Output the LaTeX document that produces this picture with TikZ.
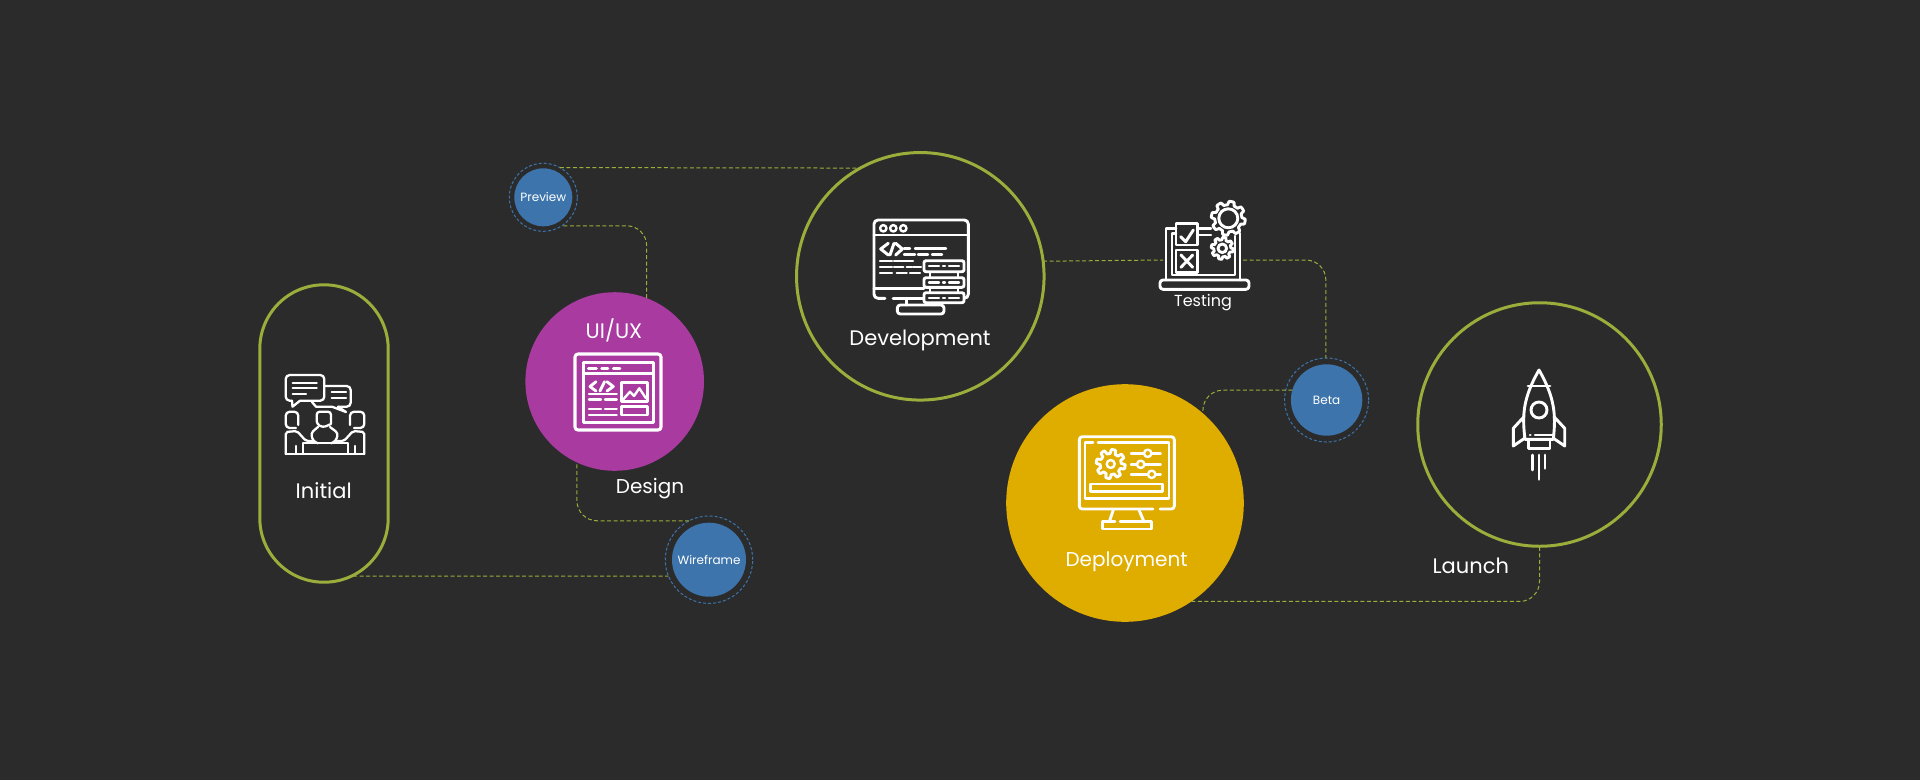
\documentclass[tikz,border=0pt]{standalone}
\usepackage{fontspec}
\setmainfont{Poppins}
\usetikzlibrary{calc}
\definecolor{bgdark}{HTML}{2B2B2B}
\definecolor{olive}{HTML}{9BAD3A}
\definecolor{steel}{HTML}{3C74AB}
\definecolor{plum}{HTML}{A83AA0}
\definecolor{amber}{HTML}{DFAD00}
\tikzset{
	stage/.style={circle, draw=olive, line width=3pt, inner sep=0, outer sep=0, minimum size=#1},
	blob/.style={circle, fill=#1, inner sep=0, outer sep=0},
	halo/.style={circle, draw=steel, line width=1pt, dash pattern=on 3pt off 2pt, inner sep=0, outer sep=0, minimum size=#1},
	link/.style={draw=olive, line width=1pt, dash pattern=on 4pt off 2.5pt, rounded corners=20pt},
	iconline/.style={draw=white, line width=#1, line join=round, line cap=round},
	iconline/.default=2.9pt,
	bigtxt/.style={text=white, inner sep=0, font=\fontsize{21}{25}\selectfont},
	lowtxt/.style={text=white, inner sep=0, font=\fontsize{20}{24}\selectfont},
	midtxt/.style={text=white, inner sep=0, font=\fontsize{16}{19}\selectfont},
	smalltxt/.style={text=white, inner sep=0, font=\fontsize{12}{15}\selectfont},
}
\def\gearshape(#1,#2)(#3:#4:#5){\draw[iconline] plot[domain=0:360,samples=145,variable=\t] ({#1+(#3+(#4-#3)*(0.5+0.5*min(1,max(-1,2.5*sin(#5*\t)))))*cos(\t)},{#2+(#3+(#4-#3)*(0.5+0.5*min(1,max(-1,2.5*sin(#5*\t)))))*sin(\t)}) -- cycle;}

\begin{document}
\begin{tikzpicture}[x=1pt, y=-1pt]
		%%%%% START %%%%%
		\fill[bgdark] (0,0) rectangle (1920,780);
		\useasboundingbox (0,0) rectangle (1920,780);
		
		% stages
		\draw[draw=olive, line width=3pt, rounded corners=64pt] (259.8,284.8) rectangle (388.2,582.2);
		\coordinate (initialfoot) at (353,576);
		\node[blob=plum, minimum size=178.6pt] (design) at (614.7,381.5) {};
		\node[stage=247.5pt] (dev) at (920.3,276.3) {};
		\node[blob=amber, minimum size=237.6pt] (deploy) at (1125,503) {};
		\node[stage=243.5pt] (launch) at (1539.5,424.5) {};
		
		% small steps
		\node[blob=steel, minimum size=58pt] (preview) at (543.3,197.3) {};
		\node[halo=68pt] (previewring) at (543.3,197.3) {};
		\node[blob=steel, minimum size=74pt] (wire) at (709,559.7) {};
		\node[halo=87.4pt] (wirering) at (709,559.7) {};
		\node[blob=steel, minimum size=71.4pt] (beta) at (1326.6,400) {};
		\node[halo=84pt] (betaring) at (1326.6,400) {};
		\node[minimum width=80pt, minimum height=60pt, inner sep=0, outer sep=0] (testicon) at (1203,260) {};
		
		% connectors
		\draw[link] (initialfoot) -- (wirering.202);
		\draw[link] (wirering.117.7) -| (design.245);
		\draw[link] (design.69.3) |- (previewring.-57);
		\draw[link] (previewring.61) -- (dev.119);
		\draw[link] (dev.7.6) -- (testicon.west);
		\draw[link] (testicon.east) -| (betaring.91.5);
		\draw[link] (beta.164) -| (deploy.49);
		\draw[link] (deploy.-56.4) -| (launch.south);
		
		% labels
		\node[bigtxt] (initiallbl) at (323.7,490.5) {Initial};
		\node[bigtxt] (uilbl) at (614,330) {UI/UX};
		\node[lowtxt] (designlbl) at (650,488.5) {Design};
		\node[bigtxt] (devlbl) at (920,340) {Development};
		\node[midtxt] (testlbl) at (1203,303) {Testing};
		\node[lowtxt] (deploylbl) at (1126.6,561.5) {Deployment};
		\node[bigtxt] (launchlbl) at (1470.8,565.5) {Launch};
		\node[smalltxt] (previewlbl) at (preview) {Preview};
		\node[smalltxt] (wirelbl) at (wire) {Wireframe};
		\node[smalltxt] (betalbl) at (beta) {Beta};
		
		% icon: people talking
		\draw[iconline=2.3pt, rounded corners=4pt] (292,400.7) -- (285.7,400.7) -- (285.7,375) -- (324.3,375) -- (324.3,400.7) -- (300,400.7);
		\draw[iconline=2.3pt] (292,400.7) -- (292.5,406.7) -- (300,400.7);
		\foreach \ya/\xb in {382.7/316.7, 388.3/316.7, 394.3/306}
			\draw[iconline=2.3pt] (292.7,\ya) -- (\xb,\ya);
		\draw[iconline=2.3pt, rounded corners=4pt] (325,386) -- (350.7,386) -- (350.7,406.7) -- (338,406.7);
		\draw[iconline=2.3pt] (338,406.7) -- (346,412) -- (332,406.7) -- (316,406.7) -- (312,402);
		\foreach \ya in {391.7, 398.3}
			\draw[iconline=2.3pt] (331.7,\ya) -- (346,\ya);
		\draw[iconline=2.3pt, rounded corners=4pt] (298.3,425) -- (298.3,411.7) -- (285.7,411.7) -- (285.7,428) -- (296,428);
		\draw[iconline=2.3pt, rounded corners=3pt] (331,424) -- (331,411.7) -- (316.7,411.7) -- (316.7,424) -- (323,427.5) -- (331,424);
		\draw[iconline=2.3pt, rounded corners=4pt] (350,425) -- (350,411.7) -- (364.3,411.7) -- (364.3,428) -- (354,428);
		\draw[iconline=2.3pt] (285.7,454) -- (364.3,454);
		\draw[iconline=2.3pt] (303.3,454) -- (303.3,443.3) -- (348.3,443.3) -- (348.3,454);
		\draw[iconline=2.3pt, rounded corners=2pt] (285.7,454) -- (285.7,432) -- (297,431) -- (306,441) -- (314,441);
		\draw[iconline=2.3pt, rounded corners=2pt] (364.3,454) -- (364.3,432) -- (353,431) -- (344,441) -- (336,441);
		\draw[iconline=2.3pt, rounded corners=3pt] (318,427) -- (311,433) -- (313,441) -- (318,443.3);
		\draw[iconline=2.3pt, rounded corners=3pt] (330,427) -- (338,433) -- (336,441) -- (331,443.3);
		\draw[iconline=2.3pt] (296,454) -- (296,446);
		\draw[iconline=2.3pt] (355,454) -- (355,446);
		
		% icon: web layout
		\draw[iconline=3.1pt, rounded corners=3pt] (575,354) rectangle (661,430);
		\draw[iconline=2.9pt] (583.3,362.7) rectangle (653.3,422.7);
		\draw[iconline=2.9pt] (583.3,373.3) -- (653.3,373.3);
		\foreach \xa/\xb in {588.3/596.3, 601.7/608, 613.3/620}
			\draw[iconline=2.9pt] (\xa,368.3) -- (\xb,368.3);
		\draw[iconline=2.9pt] (596,381.7) -- (590,386.5) -- (596,391);
		\draw[iconline=2.9pt] (600,391) -- (604.5,381.7);
		\draw[iconline=2.9pt] (607,381.7) -- (613.3,386.5) -- (607,391);
		\draw[iconline=2.9pt] (621.7,382.3) rectangle (647.3,401.7);
		\draw[iconline=2.4pt] (623.3,399.3) -- (630,391.7) -- (634,396) -- (639.3,388.3) -- (646,398.3);
		\draw[iconline=2.9pt] (621.7,406.7) rectangle (647.3,415);
		\foreach \ya in {394, 414.7}
			\draw[iconline=2.4pt] (589,\ya) -- (616.7,\ya);
		\foreach \ya in {399.3, 409} {
			\draw[iconline=2.4pt] (589,\ya) -- (601,\ya);
			\draw[iconline=2.4pt] (605,\ya) -- (616.7,\ya);
		}
		
		% icon: monitor with code and servers
		\draw[iconline=2.9pt, rounded corners=4pt] (885,298.3) -- (874,298.3) -- (874,220) -- (968.3,220) -- (968.3,298.3) -- (962,298.3);
		\draw[iconline=2.9pt] (874,235) -- (968.3,235);
		\draw[iconline=2.9pt] (874,288.3) -- (924,288.3);
		\draw[iconline=2.9pt] (893,298.3) -- (924,298.3);
		\foreach \xa in {883.3, 893.3, 903.3}
			\draw[iconline=2.4pt] (\xa,228.3) circle (3.2);
		\draw[iconline=3pt] (888.3,243.3) -- (880.7,249) -- (888.3,255);
		\draw[iconline=3pt] (890,255) -- (894,243.3);
		\draw[iconline=3pt] (895.7,243.3) -- (902.3,249) -- (895.7,255);
		\foreach \xa/\xb/\ya in {904/910/248.3, 915/946/248.3, 904/915/254.3, 918/928/254.3, 932/942/254.3, 880/892/261, 894/913/261, 880/892/266.7, 894/903.3/266.7, 906.7/911.7/266.7, 913/921/266.7, 880/892/272.7, 896.7/906.7/272.7, 910/920/272.7}
			\draw[iconline=2.4pt] (\xa,\ya) -- (\xb,\ya);
		\draw[iconline=2.9pt] (906.7,298.3) -- (906.7,305);
		\draw[iconline=2.9pt] (934,298.3) -- (934,305);
		\draw[iconline=2.9pt, rounded corners=3pt] (897.3,305) rectangle (944,314);
		\foreach \ya/\yb in {271.7/277.7, 287.3/292.7} {
			\draw[iconline=2.9pt] (930,\ya) -- (930,\yb);
			\draw[iconline=2.9pt] (958,\ya) -- (958,\yb);
		}
		\foreach \ya/\yb in {260.7/271.7, 277.7/287.3, 292.7/302.7} {
			\draw[iconline=2.9pt, fill=bgdark, rounded corners=2pt] (924,\ya) rectangle (964,\yb);
			\draw[iconline=2.4pt] (929,{(\ya+\yb)/2}) -- (939,{(\ya+\yb)/2});
			\draw[iconline=2.4pt] (943,{(\ya+\yb)/2}) -- (945,{(\ya+\yb)/2});
			\draw[iconline=2.4pt] (949,{(\ya+\yb)/2}) -- (959,{(\ya+\yb)/2});
		}
		
		% icon: laptop with checks and gears
		\draw[iconline=2.9pt, rounded corners=3pt] (1160,280) rectangle (1249,289.3);
		\draw[iconline=2.9pt] (1176,228.3) -- (1166,228.3) -- (1166,280);
		\draw[iconline=2.9pt] (1240,233.3) -- (1240,280);
		\draw[iconline=2.4pt] (1176,233.5) -- (1171.7,233.5) -- (1171.7,275) -- (1235,275) -- (1235,236);
		\draw[iconline=2.9pt] (1176,223.3) rectangle (1197.7,245);
		\draw[iconline=2.9pt] (1180.7,236.7) -- (1185.7,241.7) -- (1193.3,230);
		\draw[iconline=2.9pt] (1176,250) rectangle (1197.7,272.3);
		\draw[iconline=2.9pt] (1181,255) -- (1192.7,267.3);
		\draw[iconline=2.9pt] (1192.7,255) -- (1181,267.3);
		\draw[iconline=2.4pt] (1197.7,228.3) -- (1211,228.3);
		\draw[iconline=2.4pt] (1197.7,235) -- (1211,235);
		\gearshape(1228.3,218.3)(13.5:17:8)
		\draw[iconline=2.9pt] (1228.3,218.3) circle (9.5);
		\gearshape(1222.3,248.3)(8.5:11:8)
		\draw[iconline=2.9pt] (1222.3,248.3) circle (4.3);
		
		% icon: monitor with settings
		\draw[iconline=2.9pt, rounded corners=3pt] (1153,509) -- (1079.3,509) -- (1079.3,436.7) -- (1174.3,436.7) -- (1174.3,509) -- (1160,509);
		\draw[iconline=2.9pt] (1093,442.7) -- (1085,442.7) -- (1085,498.3) -- (1169,498.3) -- (1169,442.7) -- (1098,442.7);
		\gearshape(1110.7,464)(10.5:14.5:8)
		\draw[iconline=2.4pt] (1110.7,464) circle (4);
		\foreach \ya/\xa in {453.3/1147.7, 464.3/1140.7, 474.3/1151.7} {
			\draw[iconline=2.4pt] (1131,\ya) -- (1160.7,\ya);
			\draw[iconline=2.4pt, fill=amber] (\xa,\ya) circle (3.7);
		}
		\draw[iconline=2.9pt] (1090.7,484) rectangle (1162.3,491.7);
		\draw[iconline=2.9pt] (1113.3,510) -- (1109.3,521.7);
		\draw[iconline=2.9pt] (1139,510) -- (1144,521.7);
		\draw[iconline=2.9pt] (1115,521.7) -- (1102.7,521.7) -- (1102.7,529) -- (1151.7,529) -- (1151.7,521.7) -- (1120,521.7);
		
		% icon: rocket
		\draw[iconline=2.9pt] (1525,439.3) .. controls (1522,415) and (1523,398) .. (1539,370) .. controls (1555,398) and (1556,415) .. (1553.3,439.3) -- cycle;
		\draw[iconline=2.9pt] (1528,386) -- (1550,386);
		\draw[iconline=2.9pt] (1539,410) circle (8);
		\draw[iconline=2.9pt] (1524,416.7) -- (1513.3,428.3) -- (1513.3,446) -- (1524.5,438.3);
		\draw[iconline=2.9pt] (1554,416.7) -- (1564.7,428.3) -- (1564.7,446) -- (1553.5,438.3);
		\draw[iconline=2.9pt] (1528.3,439.3) -- (1528.3,448.3) -- (1550,448.3) -- (1550,439.3);
		\draw[iconline=2.4pt] (1530,435) -- (1530.4,435);
		\draw[iconline=2.4pt] (1535,435) -- (1552.7,435);
		\foreach \xa/\yb in {1532.7/470, 1539/479.3, 1545/468.3}
			\draw[iconline=2.9pt] (\xa,455) -- (\xa,\yb);
		%%%%% END %%%%%
\end{tikzpicture}
\end{document}
